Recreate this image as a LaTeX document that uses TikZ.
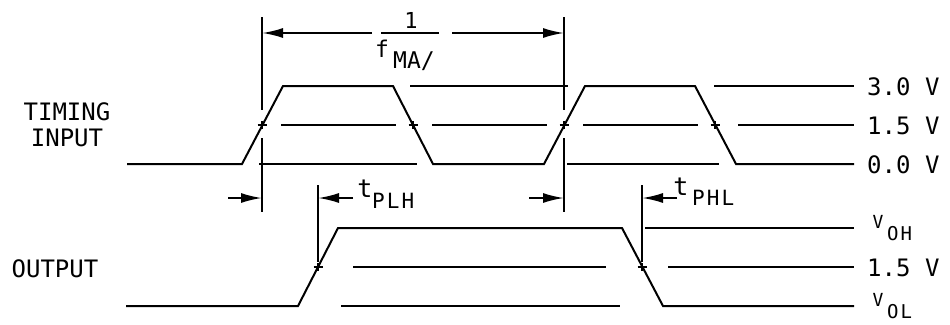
\documentclass[tikz,border=0pt]{standalone}
\usepackage{fontspec}
\newfontfamily\lbl{DejaVu Sans Mono}
\usetikzlibrary{arrows.meta}
\begin{document}
\begin{tikzpicture}[x=1pt,y=-1pt,
  wave/.style={line width=2pt, line join=miter},
  refline/.style={line width=2pt},
  dimline/.style={line width=2pt},
  dimarrow/.style={line width=2pt, -{Latex[length=21pt,width=10pt]}},
  tick/.style={line width=1.8pt},
  lab/.style={font=\lbl\fontsize{24}{24}\selectfont, inner sep=0pt},
  sublab/.style={font=\lbl\fontsize{21}{21}\selectfont\addfontfeature{LetterSpace=10}, inner sep=0pt, anchor=west},
  vsub/.style={font=\lbl\fontsize{19}{19}\selectfont\addfontfeature{LetterSpace=10}, inner sep=0pt, anchor=west},
  small/.style={font=\lbl\fontsize{25}{25}\selectfont, inner sep=0pt},
  tinyv/.style={font=\lbl\fontsize{18}{18}\selectfont, inner sep=0pt},
]
\useasboundingbox (0,0) rectangle (950,324);

% ---- input waveform
\draw[wave] (127,164) -- (242,164) -- (283,86) -- (393,86) -- (433,164) -- (544,164) -- (585,86) -- (695,86) -- (736,164) -- (854,164);
% reference levels (input)
\draw[refline] (410,86) -- (568,86);
\draw[refline] (714,86) -- (854,86);
\draw[refline] (281,125) -- (396,125);
\draw[refline] (432,125) -- (547,125);
\draw[refline] (583,125) -- (698,125);
\draw[refline] (738,125) -- (854,125);
\draw[refline] (259,164) -- (417,164);
\draw[refline] (567,164) -- (719,164);

% ---- output waveform
\draw[wave] (126,306) -- (298,306) -- (338,228) -- (622,228) -- (663,306) -- (854,306);
\draw[refline] (353,267) -- (606,267);
\draw[refline] (668,267) -- (854,267);
\draw[refline] (341,306) -- (620,306);
\draw[refline] (645,228) -- (854,228);

% ---- crossing ticks
\foreach \cx/\cy in {262/125, 413/125, 564/125, 715/125, 318/267, 642/267}{
  \draw[tick] (\cx-4.5,\cy) -- (\cx+4.5,\cy);
  \draw[tick] (\cx,\cy-4) -- (\cx,\cy+4);
}

% ---- dimension lines
\coordinate (aT) at (262,17);  \coordinate (aM) at (262,110);
\coordinate (aB1) at (262,138); \coordinate (aB) at (262,212);
\coordinate (bT) at (564,17);  \coordinate (bM) at (564,110);
\coordinate (bB1) at (564,138); \coordinate (bB) at (564,212);
\coordinate (cT) at (318,185);   \coordinate (cB) at (318,262);
\coordinate (dT) at (642,185); \coordinate (dB) at (642,262);
\draw[dimline] (aT) -- (aM);
\draw[dimline] (aB1) -- (aB);
\draw[dimline] (bT) -- (bM);
\draw[dimline] (bB1) -- (bB);
\draw[dimline] (cT) -- (cB);
\draw[dimline] (dT) -- (dB);

% top period arrow
\coordinate (pA) at (262,33); \coordinate (pL) at (372,33);
\coordinate (pR) at (452,33);   \coordinate (pB) at (564,33);
\draw[dimarrow] (pL) -- (pA);
\draw[dimarrow] (pR) -- (pB);
\coordinate (fbL) at (381,33); \coordinate (fbR) at (439,33);
\draw[dimline] (fbL) -- (fbR);
\node[font=\lbl\fontsize{22}{22}\selectfont, inner sep=0pt] (one) at (411,20) {1};
\node[font=\lbl\fontsize{23}{23}\selectfont, inner sep=0pt] (f) at (382,49) {f};
\node[font=\lbl\fontsize{23}{23}\selectfont, inner sep=0pt] (ma) at (414,61) {MA/};

% delay arrows
\coordinate (e1) at (228,198); \coordinate (e1t) at (262,198);
\coordinate (e2) at (353,198); \coordinate (e2t) at (318,198);
\coordinate (e3) at (529,198); \coordinate (e3t) at (564,198);
\coordinate (e4) at (677,198); \coordinate (e4t) at (642,198);
\draw[dimarrow] (e1) -- (e1t);
\draw[dimarrow] (e2) -- (e2t);
\draw[dimarrow] (e3) -- (e3t);
\draw[dimarrow] (e4) -- (e4t);

\node[small] (tplh) at (365,189) {t};
\node[sublab] (plh) at (372,201) {PLH};
\node[small] (tphl) at (681,187) {t};
\node[sublab] (phl) at (692,198) {PHL};

% ---- right labels
\node[lab, anchor=west] (l30) at (867,87) {3.0 V};
\node[lab, anchor=west] (l15) at (867,126) {1.5 V};
\node[lab, anchor=west] (l00) at (867,165) {0.0 V};
\node[lab, anchor=west] (l15b) at (867,268) {1.5 V};
\node[tinyv] (voh) at (878,222) {V};
\node[vsub] (oh) at (887,234) {OH};
\node[tinyv] (vol) at (878,300) {V};
\node[vsub] (ol) at (887,312) {OL};

% ---- left labels
\node[lab] (timing) at (67,112) {TIMING};
\node[lab] (input) at (67,138) {INPUT};
\node[lab] (output) at (55,269) {OUTPUT};
\end{tikzpicture}
\end{document}
